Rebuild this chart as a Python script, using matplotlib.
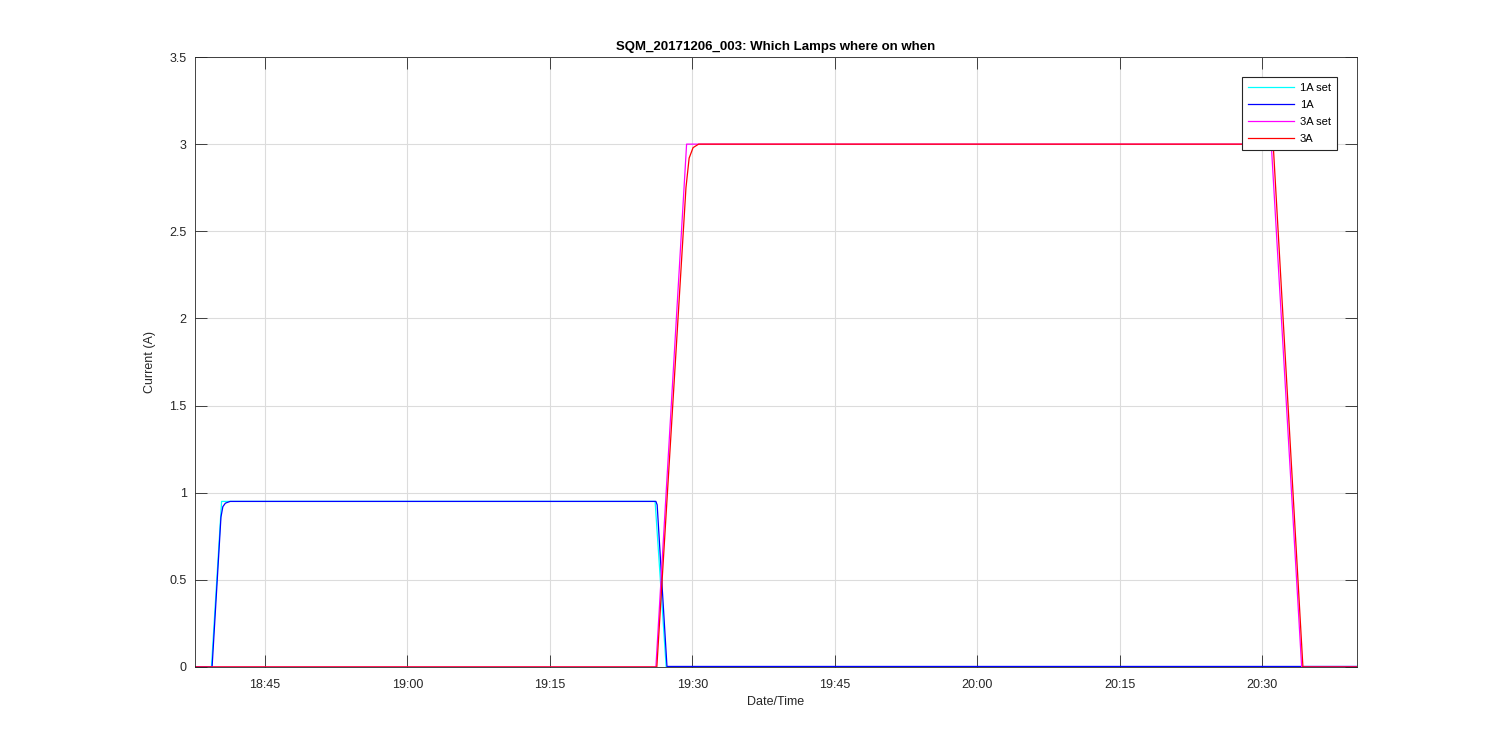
import matplotlib
matplotlib.use('Agg')
import matplotlib.pyplot as plt
import matplotlib.dates as mdates
from matplotlib.ticker import FuncFormatter
from datetime import datetime

plt.rcParams['font.family'] = ['Liberation Sans', 'DejaVu Sans']

day = '2017-12-06 '

def t(s):
    return datetime.strptime(day + s, '%Y-%m-%d %H:%M:%S')

# 1A setpoint
t_1a_set = ['18:37:38', '18:39:22', '18:40:26', '19:26:05', '19:27:15', '20:40:00']
v_1a_set = [0.0, 0.0, 0.95, 0.95, 0.0, 0.0]

# 1A measured
t_1a = ['18:37:38', '18:39:26', '18:40:22', '18:40:34', '18:40:50', '18:41:20',
        '19:26:10', '19:26:18', '19:27:20', '20:40:00']
v_1a = [0.0, 0.0, 0.86, 0.92, 0.94, 0.95, 0.95, 0.93, 0.003, 0.003]

# 3A setpoint
t_3a_set = ['18:37:38', '19:26:10', '19:29:24', '20:30:58', '20:34:10', '20:40:00']
v_3a_set = [0.0, 0.0, 3.0, 3.0, 0.0, 0.0]

# 3A measured
t_3a = ['18:37:38', '19:26:16', '19:29:20', '19:29:40', '19:30:05', '19:30:40',
        '20:31:02', '20:31:12', '20:34:18', '20:40:00']
v_3a = [0.0, 0.0, 2.75, 2.92, 2.98, 3.0, 3.0, 2.97, 0.0, 0.0]

fig = plt.figure(figsize=(15, 7.5), dpi=100)
ax = fig.add_axes([0.13, 0.1107, 0.7747, 0.8133])

ax.plot([t(s) for s in t_1a_set], v_1a_set, color='cyan', lw=0.9, label='1A set')
ax.plot([t(s) for s in t_1a], v_1a, color='blue', lw=0.9, label='1A')
ax.plot([t(s) for s in t_3a_set], v_3a_set, color='magenta', lw=0.9, label='3A set')
ax.plot([t(s) for s in t_3a], v_3a, color='red', lw=0.9, label='3A')

ax.set_xlim(t('18:37:38'), t('20:40:00'))
ax.set_ylim(0, 3.5)
ax.set_yticks([0, 0.5, 1, 1.5, 2, 2.5, 3, 3.5])
ax.yaxis.set_major_formatter(FuncFormatter(lambda v, p: '%g' % v))
ax.xaxis.set_major_locator(mdates.MinuteLocator(byminute=[0, 15, 30, 45]))
ax.xaxis.set_major_formatter(mdates.DateFormatter('%H:%M'))

ax.grid(True, color='#dcdcdc', lw=0.8)
ax.set_axisbelow(True)
ax.tick_params(direction='in', length=8.5, width=0.6, colors='#262626',
               top=True, right=True, labelsize=9)
ax.tick_params(axis='x', pad=9)
ax.tick_params(axis='y', pad=6)
for sp in ax.spines.values():
    sp.set_color('#262626')
    sp.set_linewidth(0.6)

ax.set_xlabel('Date/Time', fontsize=9, color='#262626', labelpad=3)
ax.set_ylabel('Current (A)', fontsize=9, color='#262626', labelpad=10)
ax.set_title('SQM_20171206_003: Which Lamps where on when', fontsize=9.5,
             fontweight='bold', color='#000000', pad=5)

leg = ax.legend(loc='upper right', bbox_to_anchor=(0.9828, 0.967), fontsize=8,
                frameon=True, fancybox=False, framealpha=1, edgecolor='#262626',
                handlelength=4.2, handletextpad=0.5, borderpad=0.55,
                labelspacing=0.62, borderaxespad=0)
leg.get_frame().set_linewidth(0.8)

fig.savefig('out.png', dpi=100)
